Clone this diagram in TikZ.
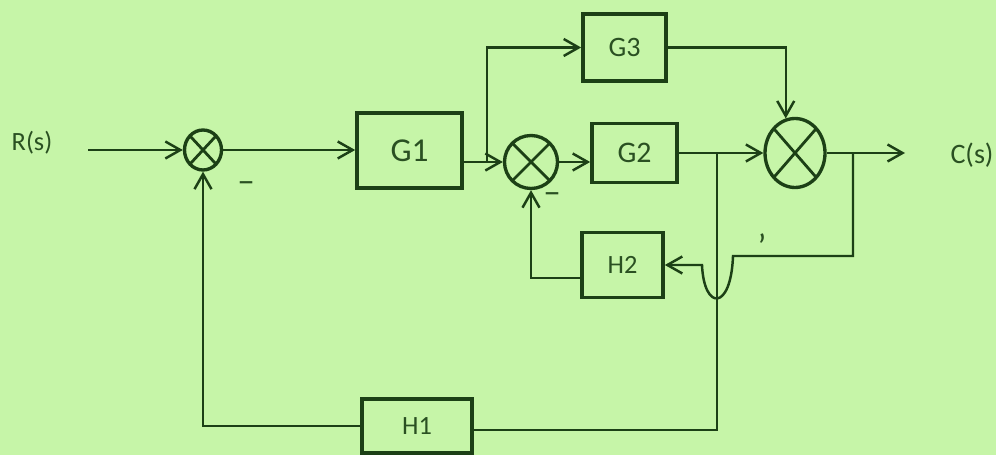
\documentclass[tikz,border=0pt]{standalone}
\usepackage{fontspec}
\setmainfont{Carlito}
\usetikzlibrary{positioning, calc, arrows.meta, shapes.geometric}
\definecolor{papergreen}{RGB}{198,245,168}
\definecolor{inkgreen}{RGB}{28,64,22}
\definecolor{lblgreen}{RGB}{42,80,34}
\tikzset{
  blk/.style={draw=inkgreen, line width=2.1pt, inner sep=0pt, text=lblgreen,
    font=\fontsize{17}{20}\selectfont},
  sumnode/.style={draw=inkgreen, line width=1.9pt, ellipse, inner sep=0pt,
    path picture={\draw[inkgreen, line width=1.6pt]
      (path picture bounding box.north west) -- (path picture bounding box.south east)
      (path picture bounding box.north east) -- (path picture bounding box.south west);}},
  wire/.style={draw=inkgreen, line width=1.4pt},
  sig/.style={wire, -{Straight Barb[length=3mm, width=3.4mm]}},
  siglbl/.style={text=lblgreen, inner sep=0pt, font=\fontsize{15}{18}\selectfont},
  signlbl/.style={text=lblgreen, inner sep=0pt, font=\fontsize{20}{20}\selectfont},
}

\begin{document}
\begin{tikzpicture}[x=0.02cm, y=-0.02cm]

% ============================================================ paper
\fill[papergreen] (0,0) rectangle (996,455);
\useasboundingbox (0,0) rectangle (996,455);

% ============================================================ forward path
\node[siglbl] (Rs) at (32,143) {R(s)};
\coordinate (rin) at (88,150);
\node[sumnode, minimum width=0.74cm, minimum height=0.8cm] (S1) at (203,150) {};
\node[blk, minimum width=2.1cm, minimum height=1.5cm, font=\fontsize{19}{22}\selectfont] (G1) at (409.5,150.5) {G1};
\node[sumnode, minimum size=1.06cm] (S2) at (531,162) {};
\node[blk, minimum width=1.7cm, minimum height=1.18cm] (G2) at (634.5,153) {G2};
\node[blk, minimum width=1.66cm, minimum height=1.34cm, font=\fontsize{16}{19}\selectfont] (G3) at (624.5,47.5) {G3};
\node[sumnode, minimum width=1.2cm, minimum height=1.38cm] (S3) at (795,153) {};
\coordinate (cout) at (905,153);
\node[siglbl, font=\fontsize{16}{19}\selectfont] (Cs) at (972,155) {C(s)};

% ============================================================ feedback blocks
\node[blk, minimum width=1.62cm, minimum height=1.3cm, font=\fontsize{15}{18}\selectfont] (H2) at (622.5,265) {H2};
\node[blk, minimum width=2.2cm, minimum height=1.08cm, font=\fontsize{15}{18}\selectfont] (H1) at (417,426) {H1};

% ============================================================ signs
\node[signlbl] (m1) at (246,187) {--};
\node[signlbl] (m2) at (552,198) {--};
\node[signlbl] (tick) at (762,246) {'};

% ============================================================ connectors
\draw[sig] (rin) -- (S1);
\draw[sig] (S1) -- (S1 -| G1.west);
\draw[sig] (G1.east |- S2) -- (S2);
\coordinate (bG1) at (487,162);
\draw[sig] (bG1) |- (G3);
\draw[sig] (S2) -- (S2 -| G2.west);
\draw[sig] (G2) -- (S3);
\draw[sig] (G3) -| (S3.105);
\draw[sig] (S3) -- (cout);

% inner loop, jumping over the H1 line
\coordinate (bC) at (853,153);
\coordinate (jumpR) at (733,256);
\coordinate (jumpL) at (702,265);
\draw[sig] (bC) |- (jumpR) .. controls (731,311) and (704,311) .. (jumpL) -- (H2.east);
\draw[sig] (H2.197) -| (S2);

% outer loop
\coordinate (bG2) at (717,153);
\draw[wire] (bG2) |- (H1.-4);
\draw[sig] (H1) -| (S1);

\end{tikzpicture}
\end{document}
